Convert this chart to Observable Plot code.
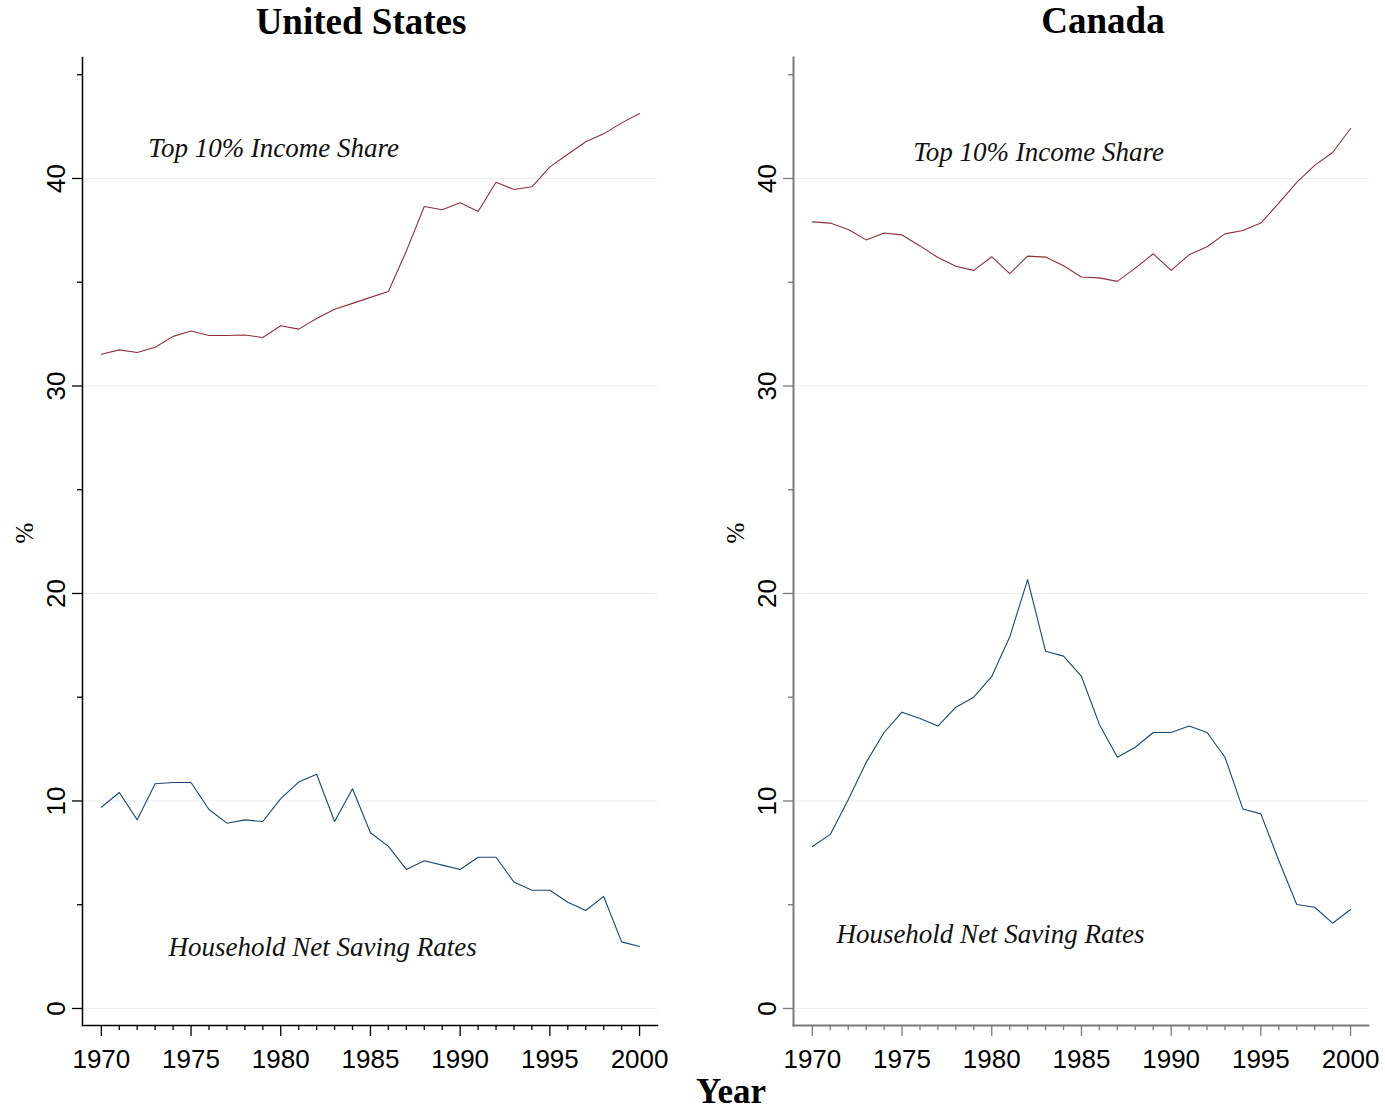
<!DOCTYPE html>
<html>
<head>
<meta charset="utf-8">
<script src="https://cdn.jsdelivr.net/npm/d3@7"></script>
<script src="https://cdn.jsdelivr.net/npm/@observablehq/plot@0.6"></script>
<style>
  html, body { margin: 0; padding: 0; background: #fff; }
  #root { position: relative; width: 1385px; height: 1112px; overflow: hidden; }
  .title { position: absolute; font-family: "Liberation Serif", "DejaVu Serif", serif; font-weight: bold; font-size: 37px; line-height: 1.107em; white-space: nowrap; transform: translateX(-50%); color: #000; }
  .xtitle { position: absolute; font-family: "Liberation Serif", "DejaVu Serif", serif; font-weight: bold; font-size: 35px; line-height: 1.107em; white-space: nowrap; transform: translateX(-50%); color: #000; }
  .ylab { position: absolute; font-family: "Liberation Serif", serif; font-size: 25px; line-height: 25px; transform: translate(-50%, -50%) rotate(-90deg); color: #000; }
  .panel { position: absolute; }
</style>
</head>
<body>
<div id="root"></div>
<script>
const years = d3.range(1970, 2001);
const usTop10 = [31.53, 31.74, 31.61, 31.87, 32.39, 32.65, 32.43, 32.43, 32.46, 32.34,
                 32.90, 32.74, 33.25, 33.70, 33.98, 34.27, 34.55, 36.50, 38.65, 38.49,
                 38.83, 38.41, 39.82, 39.47, 39.60, 40.56, 41.17, 41.77, 42.15, 42.68, 43.13];
const usSaving = [9.70, 10.41, 9.09, 10.83, 10.89, 10.89, 9.59, 8.93, 9.09, 9.01,
                  10.11, 10.91, 11.29, 9.01, 10.59, 8.47, 7.81, 6.70, 7.12, 6.91,
                  6.70, 7.29, 7.29, 6.09, 5.70, 5.70, 5.12, 4.72, 5.40, 3.21, 2.99];
const caTop10 = [37.91, 37.85, 37.54, 37.04, 37.37, 37.28, 36.75, 36.19, 35.77, 35.57,
                 36.23, 35.41, 36.26, 36.21, 35.79, 35.25, 35.21, 35.04, 35.68, 36.37,
                 35.57, 36.32, 36.71, 37.33, 37.49, 37.85, 38.81, 39.81, 40.63, 41.25, 42.41];
const caSaving = [7.81, 8.39, 10.06, 11.86, 13.30, 14.28, 13.98, 13.61, 14.52, 15.00,
                  16.00, 17.90, 20.67, 17.22, 16.98, 16.00, 13.69, 12.11, 12.59, 13.30,
                  13.30, 13.61, 13.30, 12.11, 9.61, 9.38, 7.13, 5.01, 4.88, 4.11, 4.77];

const yMajorTicks = [0, 10, 20, 30, 40];
const yMinorTicks = [5, 15, 25, 35, 45];
const xMajorTicks = [1970, 1975, 1980, 1985, 1990, 1995, 2000];
const xMinorTicks = d3.range(1970, 2001).filter(d => d % 5 !== 0);

const panelTitles = ["United States", "Canada"];
const yAxisLabel = "%";
const xAxisLabel = "Year";
const seriesNames = ["Top 10% Income Share", "Household Net Saving Rates"];
// annotation anchor positions (data coords) per panel: [top label, saving label]
const usLabelPos = [[1972.62, 41.45], [1973.74, 2.94]];
const caLabelPos = [[1975.62, 41.25], [1971.34, 3.57]];

const RED = "#8f2f3b";
const BLUE = "#1a476f";

function makePanel(top10, saving, labelPos, axisColor, axisWidth) {
  const data = years.map((y, i) => ({year: y, top10: top10[i], saving: saving[i]}));
  const labels = seriesNames.map((t, i) => ({text: t, x: labelPos[i][0], y: labelPos[i][1]}));
  return Plot.plot({
    width: 692,
    height: 1035,
    marginLeft: 82,
    marginRight: 35,
    marginTop: 12,
    marginBottom: 55,
    x: {domain: [1968.95, 2001.0]},
    y: {domain: [-0.82, 45.83]},
    style: {fontFamily: "'Liberation Sans', Arial, sans-serif", color: "#000", background: "transparent", overflow: "visible"},
    marks: [
      Plot.gridY(yMajorTicks, {stroke: "#e6eff0", strokeOpacity: 1, strokeWidth: 1}),
      Plot.frame({anchor: "left", stroke: axisColor, strokeWidth: axisWidth}),
      Plot.frame({anchor: "bottom", stroke: axisColor, strokeWidth: axisWidth}),
      Plot.axisY(yMajorTicks, {tickSize: 10, stroke: axisColor, strokeWidth: 1.3, tickRotate: -90, tickPadding: 8, fontSize: 26, fill: "#000", label: null, tickFormat: d => String(d)}),
      Plot.axisY(yMinorTicks, {tickSize: 5, stroke: axisColor, strokeWidth: 1.3, text: null, label: null}),
      Plot.axisX(xMajorTicks, {tickSize: 11, stroke: axisColor, strokeWidth: 1.3, tickPadding: 13, fontSize: 26, fill: "#000", label: null, tickFormat: d => String(d)}),
      Plot.axisX(xMinorTicks, {tickSize: 5, stroke: axisColor, strokeWidth: 1.3, text: null, label: null}),
      Plot.lineY(data, {x: "year", y: "top10", stroke: RED, strokeWidth: 1.1}),
      Plot.lineY(data, {x: "year", y: "saving", stroke: BLUE, strokeWidth: 1.1}),
      Plot.text(labels, {x: "x", y: "y", text: "text", textAnchor: "start", lineAnchor: "middle",
        fontSize: 27, fontStyle: "italic", fontFamily: "'Liberation Serif', 'DejaVu Serif', serif", fill: "#111"})
    ]
  });
}

const root = document.getElementById("root");

function addDiv(cls, text, left, top) {
  const d = document.createElement("div");
  d.className = cls;
  d.textContent = text;
  d.style.left = left + "px";
  d.style.top = top + "px";
  root.appendChild(d);
  return d;
}

const left = makePanel(usTop10, usSaving, usLabelPos, "#000", 1.5);
left.classList.add("panel");
left.style.left = "0px";
left.style.top = "45px";
root.appendChild(left);

const right = makePanel(caTop10, caSaving, caLabelPos, "#7a7a7a", 2);
right.classList.add("panel");
right.style.left = "711px";
right.style.top = "45px";
root.appendChild(right);

addDiv("title", panelTitles[0], 361, 2);
addDiv("title", panelTitles[1], 1103, 1);
addDiv("xtitle", xAxisLabel, 731, 1073);
addDiv("ylab", yAxisLabel, 24, 533);
addDiv("ylab", yAxisLabel, 735, 533);
</script>
</body>
</html>
